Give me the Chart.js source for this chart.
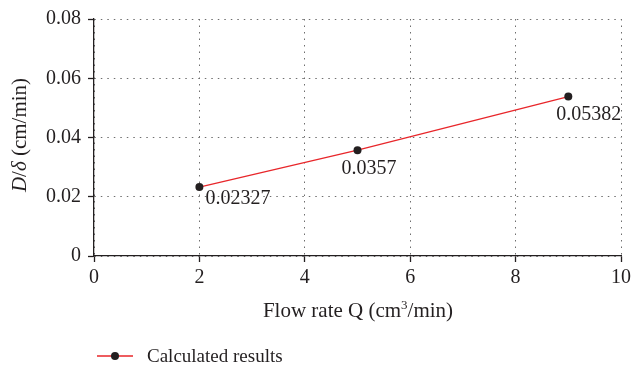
<!DOCTYPE html>
<html>
<head>
<meta charset="utf-8">
<script src="https://cdn.jsdelivr.net/npm/chart.js@4.4.1/dist/chart.umd.min.js"></script>
<style>
    html, body { margin: 0; background: #fff; }
    #kutu { width: 641px; height: 368px; }
</style>
</head>
<body>
<div id="kutu"><canvas id="grafik"></canvas></div>
<script>

const flowRate = [2, 5, 9];
const ratio = [0.02327, 0.0357, 0.05382];
const pointLabels = ["0.02327", "0.0357", "0.05382"];
const seriesName = "Calculated results";
const xTicks = [0, 2, 4, 6, 8, 10];
const yTicks = [0, 0.02, 0.04, 0.06, 0.08];

const SERIF = "'Liberation Serif', 'DejaVu Serif', serif";
const RED = "#e8262a";
const INK = "#231f20";

// label offsets from each point (dx, dy of the text baseline start)
const labelShift = [[6, 17], [-16, 24], [-12, 23]];

function yaziParca(ctx, parcalar, x, y, boy) {
    // measure first, then draw centred
    let toplam = 0;
    parcalar.forEach(p => {
        const b = p.sup ? boy * 0.62 : boy;
        ctx.font = (p.i ? "italic " : "") + b + "px " + SERIF;
        toplam += ctx.measureText(p.t).width;
    });
    let cx = x - toplam / 2;
    parcalar.forEach(p => {
        const b = p.sup ? boy * 0.62 : boy;
        ctx.font = (p.i ? "italic " : "") + b + "px " + SERIF;
        ctx.fillText(p.t, cx, p.sup ? y - boy * 0.36 : y);
        cx += ctx.measureText(p.t).width;
    });
}

const ekstra = {
    id: "ekstra",
    afterDraw(chart) {
        const ctx = chart.ctx;
        const meta = chart.getDatasetMeta(0);
        ctx.save();
        ctx.fillStyle = INK;
        ctx.textBaseline = "alphabetic";
        ctx.textAlign = "left";

        // point labels
        ctx.font = "20px " + SERIF;
        meta.data.forEach((pt, i) => {
            ctx.fillText(pointLabels[i], pt.x + labelShift[i][0], pt.y + labelShift[i][1]);
        });

        // x title
        yaziParca(ctx, [
            { t: "Flow rate Q (cm" }, { t: "3", sup: true }, { t: "/min)" }
        ], 358, 317, 21);

        // y title
        ctx.save();
        ctx.translate(26, 135);
        ctx.rotate(-Math.PI / 2);
        yaziParca(ctx, [
            { t: "D", i: true }, { t: "/" }, { t: "δ", i: true }, { t: " (cm/min)" }
        ], 0, 0, 21);
        ctx.restore();

        // legend
        ctx.strokeStyle = RED;
        ctx.lineWidth = 1.3;
        ctx.beginPath();
        ctx.moveTo(97, 356);
        ctx.lineTo(133, 356);
        ctx.stroke();
        ctx.fillStyle = INK;
        ctx.beginPath();
        ctx.arc(115, 356, 4, 0, Math.PI * 2);
        ctx.fill();
        ctx.font = "19px " + SERIF;
        ctx.fillText(seriesName, 147, 362);

        ctx.restore();
    }
};

const eksen = {
    color: "#6e6e6e",
    lineWidth: 1,
    drawTicks: true,
    tickLength: 6,
    tickColor: INK,
    tickBorderDash: [],
    tickWidth: 1.3
};

new Chart(document.getElementById("grafik"), {
    type: "line",
    data: {
        datasets: [{
            label: seriesName,
            data: flowRate.map((x, i) => ({ x: x, y: ratio[i] })),
            borderColor: RED,
            borderWidth: 1.3,
            pointRadius: 4,
            pointBackgroundColor: INK,
            pointBorderColor: INK,
            pointBorderWidth: 0,
            tension: 0
        }]
    },
    plugins: [ekstra],
    options: {
        responsive: true,
        maintainAspectRatio: false,
        animation: false,
        layout: { padding: { top: 17, right: 20, left: 0, bottom: 0 } },
        plugins: {
            legend: { display: false },
            tooltip: { enabled: false }
        },
        scales: {
            x: {
                type: "linear",
                min: 0,
                max: 10,
                afterFit: s => { s.height = 112; },
                afterBuildTicks: s => { s.ticks = xTicks.map(v => ({ value: v })); },
                grid: eksen,
                border: { display: true, color: INK, width: 1.3, dash: [1.5, 5] },
                ticks: {
                    color: INK,
                    padding: 4,
                    maxRotation: 0,
                    font: { family: SERIF, size: 20 }
                }
            },
            y: {
                min: 0,
                max: 0.08,
                afterFit: s => { s.width = 94; },
                afterBuildTicks: s => { s.ticks = yTicks.map(v => ({ value: v })); },
                grid: eksen,
                border: { display: true, color: INK, width: 1.3, dash: [1.5, 5] },
                ticks: {
                    color: INK,
                    padding: 7,
                    font: { family: SERIF, size: 20 },
                    callback: v => String(+v.toFixed(2))
                }
            }
        }
    }
});

</script>
</body>
</html>
